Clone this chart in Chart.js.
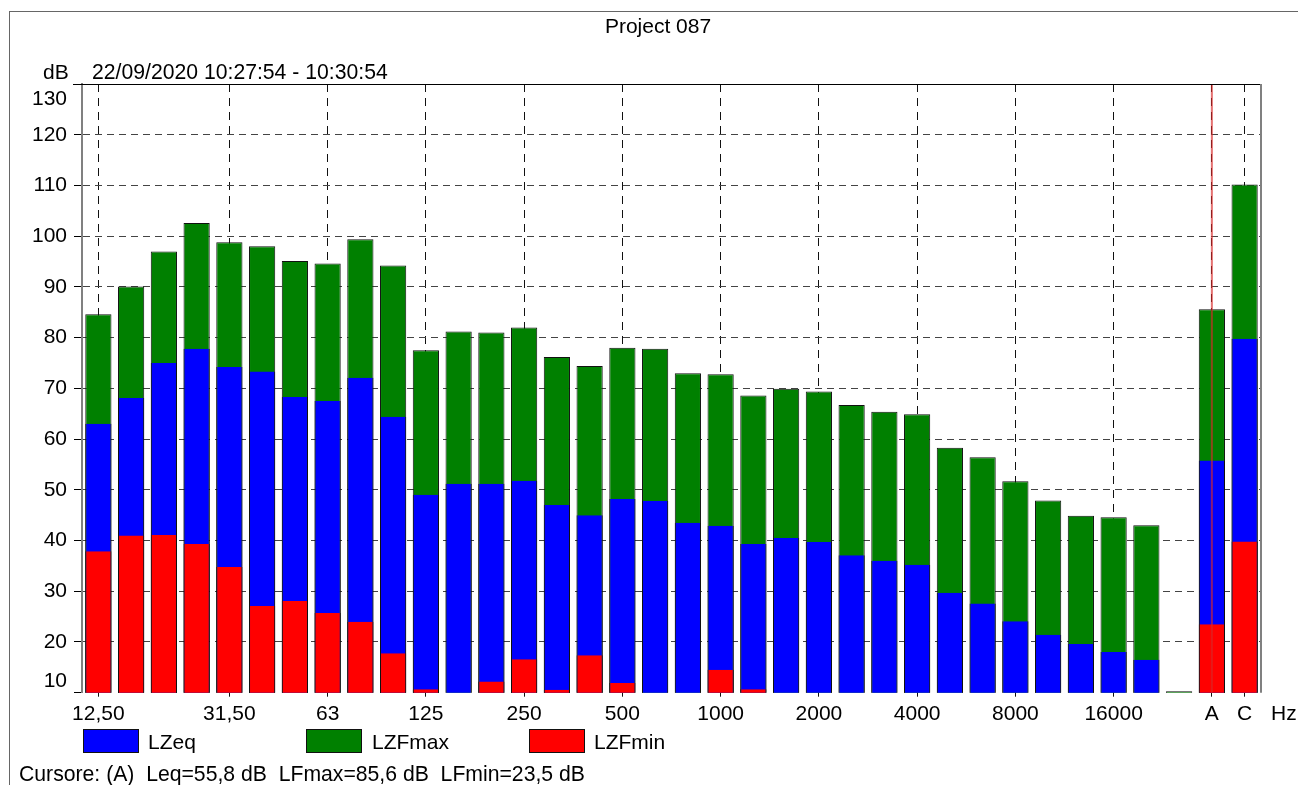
<!DOCTYPE html>
<html>
<head>
<meta charset="utf-8">
<script src="https://cdn.jsdelivr.net/npm/chart.js@4"></script>
<style>
  body { margin: 0; overflow: hidden; background: #fff; font-family: 'Liberation Sans', Arial, sans-serif; }
  #wrap { position: relative; width: 1298px; height: 785px; overflow: hidden; }
  #chart { position: absolute; left: 0; top: 0; }
  .t { position: absolute; font-size: 21px; line-height: 21px; white-space: pre; color: #000; }
  .frame { position: absolute; left: 9px; top: 11px; width: 1400px; height: 900px; border-top: 1px solid #666; border-left: 1px solid #666; }
  .box { position: absolute; top: 729px; width: 56px; height: 24px; border: 1px solid #111; box-sizing: border-box; }
</style>
</head>
<body>
<div id="wrap">
  <div class="frame"></div>
  <canvas id="chart" width="1298" height="785"></canvas>
  <div class="t" style="left:9px;width:1298px;text-align:center;top:15px">Project 087</div>
  <div class="t" style="left:43px;top:61px">dB</div>
  <div class="t" style="left:92px;top:61px;font-size:21.2px">22/09/2020 10:27:54 - 10:30:54</div>
  <div class="t" style="left:1271px;top:702px">Hz</div>
  <div class="box" style="left:83px;background:#0000ff"></div>
  <div class="t" style="left:148px;top:731px">LZeq</div>
  <div class="box" style="left:306px;background:#008000"></div>
  <div class="t" style="left:372px;top:731px">LZFmax</div>
  <div class="box" style="left:529px;background:#ff0000"></div>
  <div class="t" style="left:594px;top:731px">LZFmin</div>
  <div class="t" style="left:19px;top:763px;font-size:21.2px">Cursore: (A)  Leq=55,8 dB  LFmax=85,6 dB  LFmin=23,5 dB</div>
</div>
<script>
// 1/3 octave bands, one empty slot, then the A and C weighted totals
const bands = ['12,50', '16', '20', '25', '31,50', '40', '50', '63', '80', '100',
  '125', '160', '200', '250', '315', '400', '500', '630', '800', '1000',
  '1250', '1600', '2000', '2500', '3150', '4000', '5000', '6300', '8000', '10000',
  '12500', '16000', '20000', '', 'A', 'C'];
const shownTicks = ['12,50', '31,50', '63', '125', '250', '500', '1000', '2000', '4000', '8000', '16000', 'A', 'C'];

const lzfmax = [84.6, 90.1, 97.0, 102.6, 98.8, 98.0, 95.1, 94.6, 99.4, 94.2,
  77.5, 81.2, 81.0, 82.0, 76.2, 74.4, 78.0, 77.8, 73.0, 72.8,
  68.6, 69.9, 69.4, 66.7, 65.4, 64.9, 58.3, 56.4, 51.7, 47.9,
  44.9, 44.6, 43.0, 10.3, 85.6, 110.2];
const lzeq = [63.0, 68.1, 75.0, 77.8, 74.2, 73.3, 68.3, 67.5, 72.1, 64.4,
  49.0, 51.2, 51.2, 51.8, 47.0, 45.0, 48.2, 47.8, 43.5, 42.9,
  39.3, 40.5, 39.7, 37.1, 36.0, 35.2, 29.7, 27.6, 24.1, 21.4,
  19.6, 18.0, 16.5, null, 55.8, 79.8];
const lzfmin = [37.9, 41.0, 41.1, 39.3, 34.8, 27.1, 28.1, 25.7, 24.0, 17.8,
  10.7, null, 12.2, 16.6, 10.6, 17.4, 11.9, null, null, 14.5,
  10.7, null, null, null, null, null, null, null, null, null,
  null, null, null, null, 23.5, 39.8];

const yMin = 10, yMax = 130, yStep = 10;
const cursorBand = 'A';

Chart.defaults.font.family = "'Liberation Sans', Arial, sans-serif";
Chart.defaults.font.size = 21;
Chart.defaults.color = '#000';

const xGridColor = (c) => shownTicks.includes(bands[c.index]) ? '#111' : 'rgba(0,0,0,0)';
const yGridColor = (c) => (c.tick && (c.tick.value === yMin || c.tick.value === yMax)) ? 'rgba(0,0,0,0)' : '#444';

const frame = {
  id: 'frame',
  afterDatasetsDraw(chart) {
    const { ctx, chartArea: a, scales: { x } } = chart;
    const cx = x.getPixelForValue(bands.indexOf(cursorBand));
    ctx.save();
    ctx.strokeStyle = 'rgba(215,40,40,0.65)';
    ctx.lineWidth = 2;
    ctx.beginPath();
    ctx.moveTo(cx, a.top);
    ctx.lineTo(cx, a.bottom);
    ctx.stroke();
    ctx.restore();
  },
  afterDraw(chart) {
    const { ctx, chartArea: a, scales: { y } } = chart;
    ctx.save();
    ctx.strokeStyle = '#000';
    ctx.lineWidth = 1;
    ctx.beginPath();
    ctx.moveTo(a.left - 9, Math.round(a.top) + 0.5);
    ctx.lineTo(a.right, Math.round(a.top) + 0.5);
    ctx.stroke();
    ctx.strokeStyle = '#808080';
    ctx.lineWidth = 2;
    ctx.beginPath();
    ctx.moveTo(a.right, a.top);
    ctx.lineTo(a.right, a.bottom);
    ctx.stroke();
    // the end labels of the y axis are pulled inside the plot
    ctx.fillStyle = '#000';
    ctx.font = "21px 'Liberation Sans', Arial, sans-serif";
    ctx.textAlign = 'right';
    ctx.textBaseline = 'middle';
    ctx.fillText(String(yMax), a.left - 15, y.getPixelForValue(yMax) + 15);
    ctx.fillText(String(yMin), a.left - 15, y.getPixelForValue(yMin) - 11);
    ctx.restore();
  }
};

new Chart(document.getElementById('chart').getContext('2d'), {
  type: 'bar',
  data: {
    labels: bands,
    datasets: [
      { label: 'LZeq', data: lzeq, backgroundColor: '#0000ff', borderColor: '#111',
        borderWidth: { left: 1, right: 1, top: 0, bottom: 0 }, order: 2 },
      { label: 'LZFmax', data: lzfmax, backgroundColor: '#008000', borderColor: '#111',
        borderWidth: { left: 1, right: 1, top: 1, bottom: 0 }, order: 3 },
      { label: 'LZFmin', data: lzfmin, backgroundColor: '#ff0000', borderColor: '#111',
        borderWidth: { left: 1, right: 1, top: 0, bottom: 0 }, order: 1 }
    ]
  },
  options: {
    responsive: false,
    animation: false,
    grouped: false,
    barPercentage: 0.8,
    categoryPercentage: 1,
    layout: { padding: { top: 84, right: 37, bottom: 52.3, left: 0 } },
    plugins: {
      legend: { display: false },
      tooltip: { enabled: false }
    },
    scales: {
      x: {
        offset: true,
        border: { display: false, dash: [8, 6] },
        grid: { offset: false, color: xGridColor, tickColor: xGridColor, tickLength: 4, tickBorderDash: [] },
        ticks: {
          autoSkip: false, maxRotation: 0, padding: 5,
          callback: (v, i) => shownTicks.includes(bands[i]) ? bands[i] : ''
        },
        afterFit: (s) => { s.height = 40; }
      },
      y: {
        min: yMin,
        max: yMax,
        border: { display: true, color: '#808080', width: 2, dash: [7, 5] },
        grid: { color: yGridColor, tickColor: '#000', tickLength: 8, tickBorderDash: [] },
        ticks: {
          stepSize: yStep, padding: 7,
          callback: (v) => (v === yMin || v === yMax) ? '' : v
        },
        afterFit: (s) => { s.width = 82; }
      }
    }
  },
  plugins: [frame]
});
</script>
</body>
</html>
